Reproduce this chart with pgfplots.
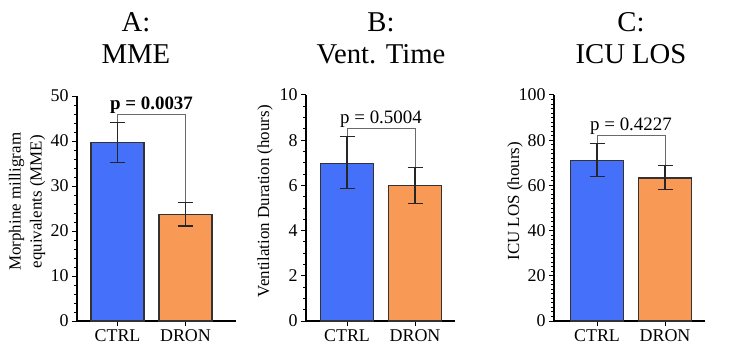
\documentclass[border=0pt]{standalone}
\usepackage{pgfplots}
\pgfplotsset{compat=1.18}
\usepackage{fontspec}
\setmainfont{Liberation Serif}
\definecolor{barblue}{HTML}{4470FA}
\definecolor{barorange}{HTML}{F89A55}
\definecolor{brk}{HTML}{6A6A6A}
\begin{document}
\begin{tikzpicture}[x=1bp,y=1bp]
\useasboundingbox (0,0) rectangle (750,351);
\pgfplotsset{
 panel/.style={
  scale only axis, anchor=south west,
  axis lines=left, axis line style={-, line width=1.2bp, black},
  ymin=0, xtick={0,1}, xticklabels={CTRL,DRON},
  tick align=outside, tick pos=left,
  major tick length=5bp, minor tick length=3bp,
  every tick/.style={black, line width=1bp},
  ticklabel style={font=\fontsize{18}{20}\selectfont},
  /pgf/number format/assume math mode=true,
  ylabel style={font=\fontsize{17}{21}\selectfont, align=center, at={(axis description cs:#1,0.53)}, anchor=center, rotate=0},
  clip=false,
 },
 bar/.style={ybar, bar width=0.78, bar shift=0pt, fill=#1, draw=black!80, line width=1.2bp,
   error bars/.cd, y dir=both, y explicit,
   error bar style={line width=1.2bp, black!85},
   error mark options={line width=1.2bp, black!85, mark size=7.5bp, rotate=90}},
}
% Panel A
\begin{axis}[panel=-0.314, at={(77bp,30bp)}, width=159bp, height=225bp,
  xmin=-0.596, xmax=1.743, ymax=50, ytick={0,10,...,50}, minor y tick num=4,
  ylabel={Morphine milligram\\equivalents (MME)}]
\addplot[brk, line width=1bp, mark=none] coordinates {(0,44.07) (0,46) (1,46) (1,26.3)};
\addplot[bar=barblue] table[x=x,y=y,y error plus=ep,y error minus=em] {
x y ep em
0 39.6 4.47 4.3
};
\addplot[bar=barorange] table[x=x,y=y,y error plus=ep,y error minus=em] {
x y ep em
1 23.6 2.7 2.5
};
\node[font=\bfseries\fontsize{19}{20}\selectfont, anchor=base] at (axis cs:0.5,47.1) {p = 0.0037};
\end{axis}
% Panel B
\begin{axis}[panel=-0.275, at={(306bp,30bp)}, width=149bp, height=226bp,
  xmin=-0.603, xmax=1.588, ymax=10, ytick={0,2,...,10}, minor y tick num=3,
  ylabel={Ventilation Duration (hours)}]
\addplot[brk, line width=1bp, mark=none] coordinates {(0,8.16) (0,8.53) (1,8.53) (1,6.8)};
\addplot[bar=barblue] table[x=x,y=y,y error plus=ep,y error minus=em] {
x y ep em
0 6.98 1.18 1.13
};
\addplot[bar=barorange] table[x=x,y=y,y error plus=ep,y error minus=em] {
x y ep em
1 5.99 0.81 0.78
};
\node[font=\fontsize{19}{20}\selectfont, anchor=base] at (axis cs:0.5,8.76) {p = 0.5004};
\end{axis}
% Panel C
\begin{axis}[panel=-0.258, at={(554bp,30bp)}, width=151bp, height=226bp,
  xmin=-0.632, xmax=1.588, ymax=100, ytick={0,20,...,100}, minor y tick num=9,
  ylabel={ICU LOS (hours)}]
\addplot[brk, line width=1bp, mark=none] coordinates {(0,78.6) (0,82.3) (1,82.3) (1,68.9)};
\addplot[bar=barblue] table[x=x,y=y,y error plus=ep,y error minus=em] {
x y ep em
0 71.1 7.5 7.2
};
\addplot[bar=barorange] table[x=x,y=y,y error plus=ep,y error minus=em] {
x y ep em
1 63.3 5.6 5.0
};
\node[font=\fontsize{19}{20}\selectfont, anchor=base] at (axis cs:0.5,84.5) {p = 0.4227};
\end{axis}
% Titles
\tikzset{ttl/.style={font=\rmfamily\fontsize{18}{20}\selectfont, scale=1.6, transform shape, anchor=base, inner sep=0pt}}
\node[ttl] at (136,320) {A:};
\node[ttl] at (136,288) {MME};
\node[ttl] at (381,320) {B:};
\node[ttl] at (381,288) {Vent. Time};
\node[ttl] at (631,320) {C:};
\node[ttl] at (631,288) {ICU LOS};
\end{tikzpicture}
\end{document}
